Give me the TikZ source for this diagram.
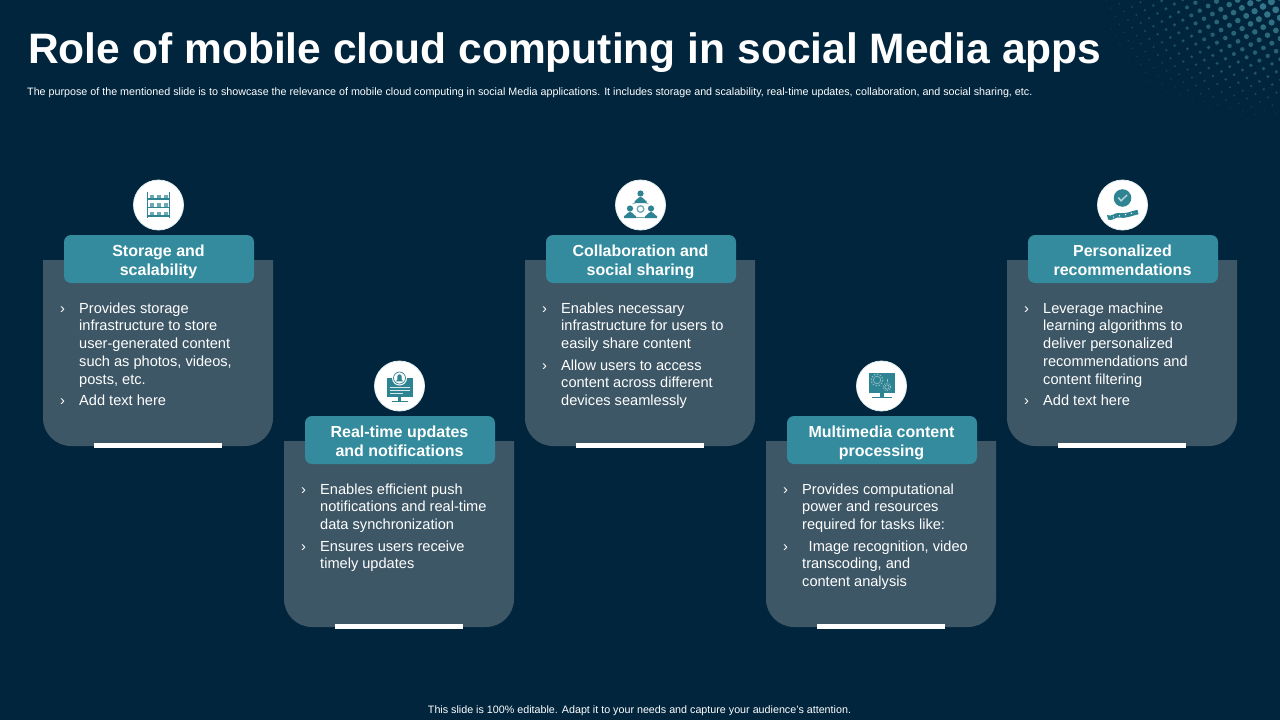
\documentclass[tikz,border=0pt]{standalone}
\usepackage{fontspec}
\setmainfont{Liberation Sans}
\usetikzlibrary{calc}
\definecolor{bg}{HTML}{01253D}
\definecolor{panelc}{HTML}{3E5766}
\definecolor{headc}{HTML}{348B9D}
\definecolor{iconc}{HTML}{2F8494}
\definecolor{dotc}{HTML}{347488}
\tikzset{
  titletext/.style={text=white,font=\fontsize{42.55}{48}\selectfont\bfseries,anchor=base west,inner sep=0},
  smalltext/.style={text=white,font=\fontsize{10.73}{12}\selectfont,inner sep=0},
  headtext/.style={text=white,font=\fontsize{16}{19}\selectfont\bfseries,align=center,anchor=north,inner sep=0},
  bodytext/.style={text=white,font=\fontsize{14.6}{17.7}\selectfont,align=left,inner sep=0},
  headbox/.style={fill=headc,rounded corners=7pt,minimum width=190pt,minimum height=48pt,inner sep=0},
  iconcircle/.style={circle,fill=white,draw=white!85!iconc,line width=.8pt,minimum size=50pt,inner sep=0},
  whitebar/.style={fill=white,minimum width=128pt,minimum height=5pt,inner sep=0},
  ic/.style={fill=iconc,draw=none},
}
\newcommand{\cardbase}[5]{%
  \fill[panelc] (#2,#3) -- ++(230,0) -- ++(0,158) arc[start angle=0,end angle=90,radius=28] -- ++(-174,0) arc[start angle=90,end angle=180,radius=28] -- cycle;
  \node[headbox] (#1h) at (#2+116,#3-1) {};
  \node[headtext] (#1t) at (#2+115.5,#3-16) {\rule{0pt}{12pt}#4\\#5};
  \node[iconcircle] (#1c) at (#2+115.5,#3-55) {};
  \node[whitebar] (#1b) at (#2+115,#3+185.5) {};
}
\newcommand{\bitem}[4]{% name, x panel, first baseline y, text
  \node[bodytext,anchor=base west] (#1a) at (#2+17,#3) {›};
  \node[bodytext,anchor=north west] (#1) at (#2+36,#3-11) {\rule{0pt}{11pt}#4};
}
\begin{document}
\begin{tikzpicture}[x=1pt,y=-1pt]
\useasboundingbox (0,0) rectangle (1280,720);
\fill[bg] (0,0) rectangle (1280,720);
\foreach \i in {-2,...,24}{
  \foreach \j in {-8,...,26}{
    \pgfmathsetmacro{\px}{1280-\i*12.7+\j*4.3}
    \pgfmathsetmacro{\py}{17.8-\i*3.3+\j*8}
    \pgfmathsetmacro{\d}{veclen(1280-\px,\py*1.5)}
    \pgfmathsetmacro{\r}{0.4+3.3*(1-\d/185)}
    \ifdim \d pt<185pt
      \ifdim \px pt<1284pt
      \ifdim \py pt>-4pt
      \pgfmathsetmacro{\op}{min(100,max(15,25+85*(1-\d/185)))}
      \fill[dotc!\op!bg] (\px,\py) circle[radius=\r];
      \fi\fi
    \fi
  }
}
\node[titletext] (title) at (28,63) {Role of mobile cloud computing in social Media apps};
\node[smalltext,anchor=base west] (sub) at (27,95) {The purpose of the mentioned slide is to showcase the relevance of mobile cloud computing in social Media applications. It includes storage and scalability, real-time updates, collaboration, and social sharing, etc.};
\node[smalltext,anchor=base] (foot) at (639.5,713) {This slide is 100\% editable. Adapt it to your needs and capture your audience's attention.};

\cardbase{a}{43}{260}{Storage and}{scalability}
\bitem{a1}{43}{313}{Provides storage\\infrastructure to store\\user-generated content\\such as photos, videos,\\posts, etc.}
\bitem{a2}{43}{405}{Add text here}

\cardbase{b}{284}{441}{Real-time updates}{and notifications}
\bitem{b1}{284}{494}{Enables efficient push\\notifications and real-time\\data synchronization}
\bitem{b2}{284}{551}{Ensures users receive\\timely updates}

\cardbase{c}{525}{260}{Collaboration and}{social sharing}
\bitem{c1}{525}{313}{Enables necessary\\infrastructure for users to\\easily share content}
\bitem{c2}{525}{370}{Allow users to access\\content across different\\devices seamlessly}

\cardbase{d}{766}{441}{Multimedia content}{processing}
\bitem{d1}{766}{494}{Provides computational\\power and resources\\required for tasks like:}
\bitem{d2}{766}{551}{\ \,Image recognition, video\\transcoding, and\\content analysis}

\cardbase{e}{1007}{260}{Personalized}{recommendations}
\bitem{e1}{1007}{313}{Leverage machine\\learning algorithms to\\deliver personalized\\recommendations and\\content filtering}
\bitem{e2}{1007}{405}{Add text here}

% icon: shelves
\begin{scope}[shift={(ac.center)}]
  \foreach \x in {-11,11}{\fill[ic] (\x-.6,-13) rectangle (\x+.6,13);}
  \foreach \y in {-6,2.5,11}{
    \fill[ic] (-11,\y-.6) rectangle (11,\y+.6);
    \foreach \x in {-7,0,7}{\fill[iconc!70!white] (\x-2,\y-4.5) rectangle (\x+2,\y-.6);}
  }
\end{scope}
% icon: monitor with bell
\begin{scope}[shift={(bc.center)}]
  \fill[ic] (-13,-8) rectangle (13,11);
  \fill[ic] (-1.5,11) rectangle (1.5,14.5);
  \fill[ic] (-8,14.5) rectangle (8,16);
  \fill[white] (0,-8) circle[radius=7.5];
  \draw[iconc,line width=.7pt] (0,-8) circle[radius=6];
  \fill[ic] (-3.6,-4.6) -- (-2.2,-6.4) -- (-2.2,-9.5) arc[start angle=180,end angle=360,radius=2.2] -- (2.2,-6.4) -- (3.6,-4.6) -- cycle;
  \foreach \y/\w in {1.5/20,4.5/20,7.5/13}{\fill[white!80!iconc] (-10,\y-.4) rectangle (-10+\w,\y+.4);}
\end{scope}
% icon: people
\begin{scope}[shift={(cc.center)}]
  \draw[iconc!70!white,line width=.6pt] (0,-4) -- (-8,-1) (0,-4) -- (8,-1) (-5,12.5) -- (5,12.5);
  \draw[iconc!70!white,line width=1.3pt] (0,4) circle[radius=3.3];
  \foreach \x/\y in {0/-11.5,-10.5/3.5,10.5/3.5}{
    \fill[ic] (\x,\y) circle[radius=3.1];
    \fill[ic] (\x-6,\y+9.5) -- (\x-6,\y+7) to[out=-90,in=180] (\x,\y+3.4) to[out=0,in=-90] (\x+6,\y+7) -- (\x+6,\y+9.5) -- cycle;
  }
\end{scope}
% icon: monitor with gears
\begin{scope}[shift={(dc.center)}]
  \fill[ic] (-12.5,-13) rectangle (13.5,7);
  \fill[ic] (-1.5,7) rectangle (2,11);
  \fill[ic] (-10,11) rectangle (10,12.4);
  \draw[white!50!iconc,line width=.6pt] (-4.5,-6) circle[radius=3.8];
  \draw[white!50!iconc,line width=.9pt,dash pattern=on 1.5pt off 1.5pt] (-4.5,-6) circle[radius=5.8];
  \draw[white!50!iconc,line width=.6pt] (5.5,1) circle[radius=2.2];
  \draw[white!50!iconc,line width=.8pt,dash pattern=on 1.2pt off 1.2pt] (5.5,1) circle[radius=3.8];
  \draw[white!50!iconc,line width=.6pt] (5.5,-7) -- (5.5,-4);
\end{scope}
% icon: badge
\begin{scope}[shift={(ec.center)}]
  \fill[ic] (0,-7) circle[radius=8.8];
  \draw[white!65!iconc,line width=1.4pt] (-4.2,-7.5) -- (-1.5,-4.2) -- (4.6,-10);
  \fill[ic] (-15.5,10) to[out=-30,in=170] (-3,8) to[out=-10,in=190] (15,4.8) -- (16,9.3) to[out=190,in=-10] (-3,12.5) to[out=170,in=-30] (-14.5,14.5) -- cycle;
  \foreach \x in {-9,-3,3,9}{\fill[white] (\x,{10.2-.2*\x}) circle[radius=.7];}
\end{scope}
\end{tikzpicture}
\end{document}
